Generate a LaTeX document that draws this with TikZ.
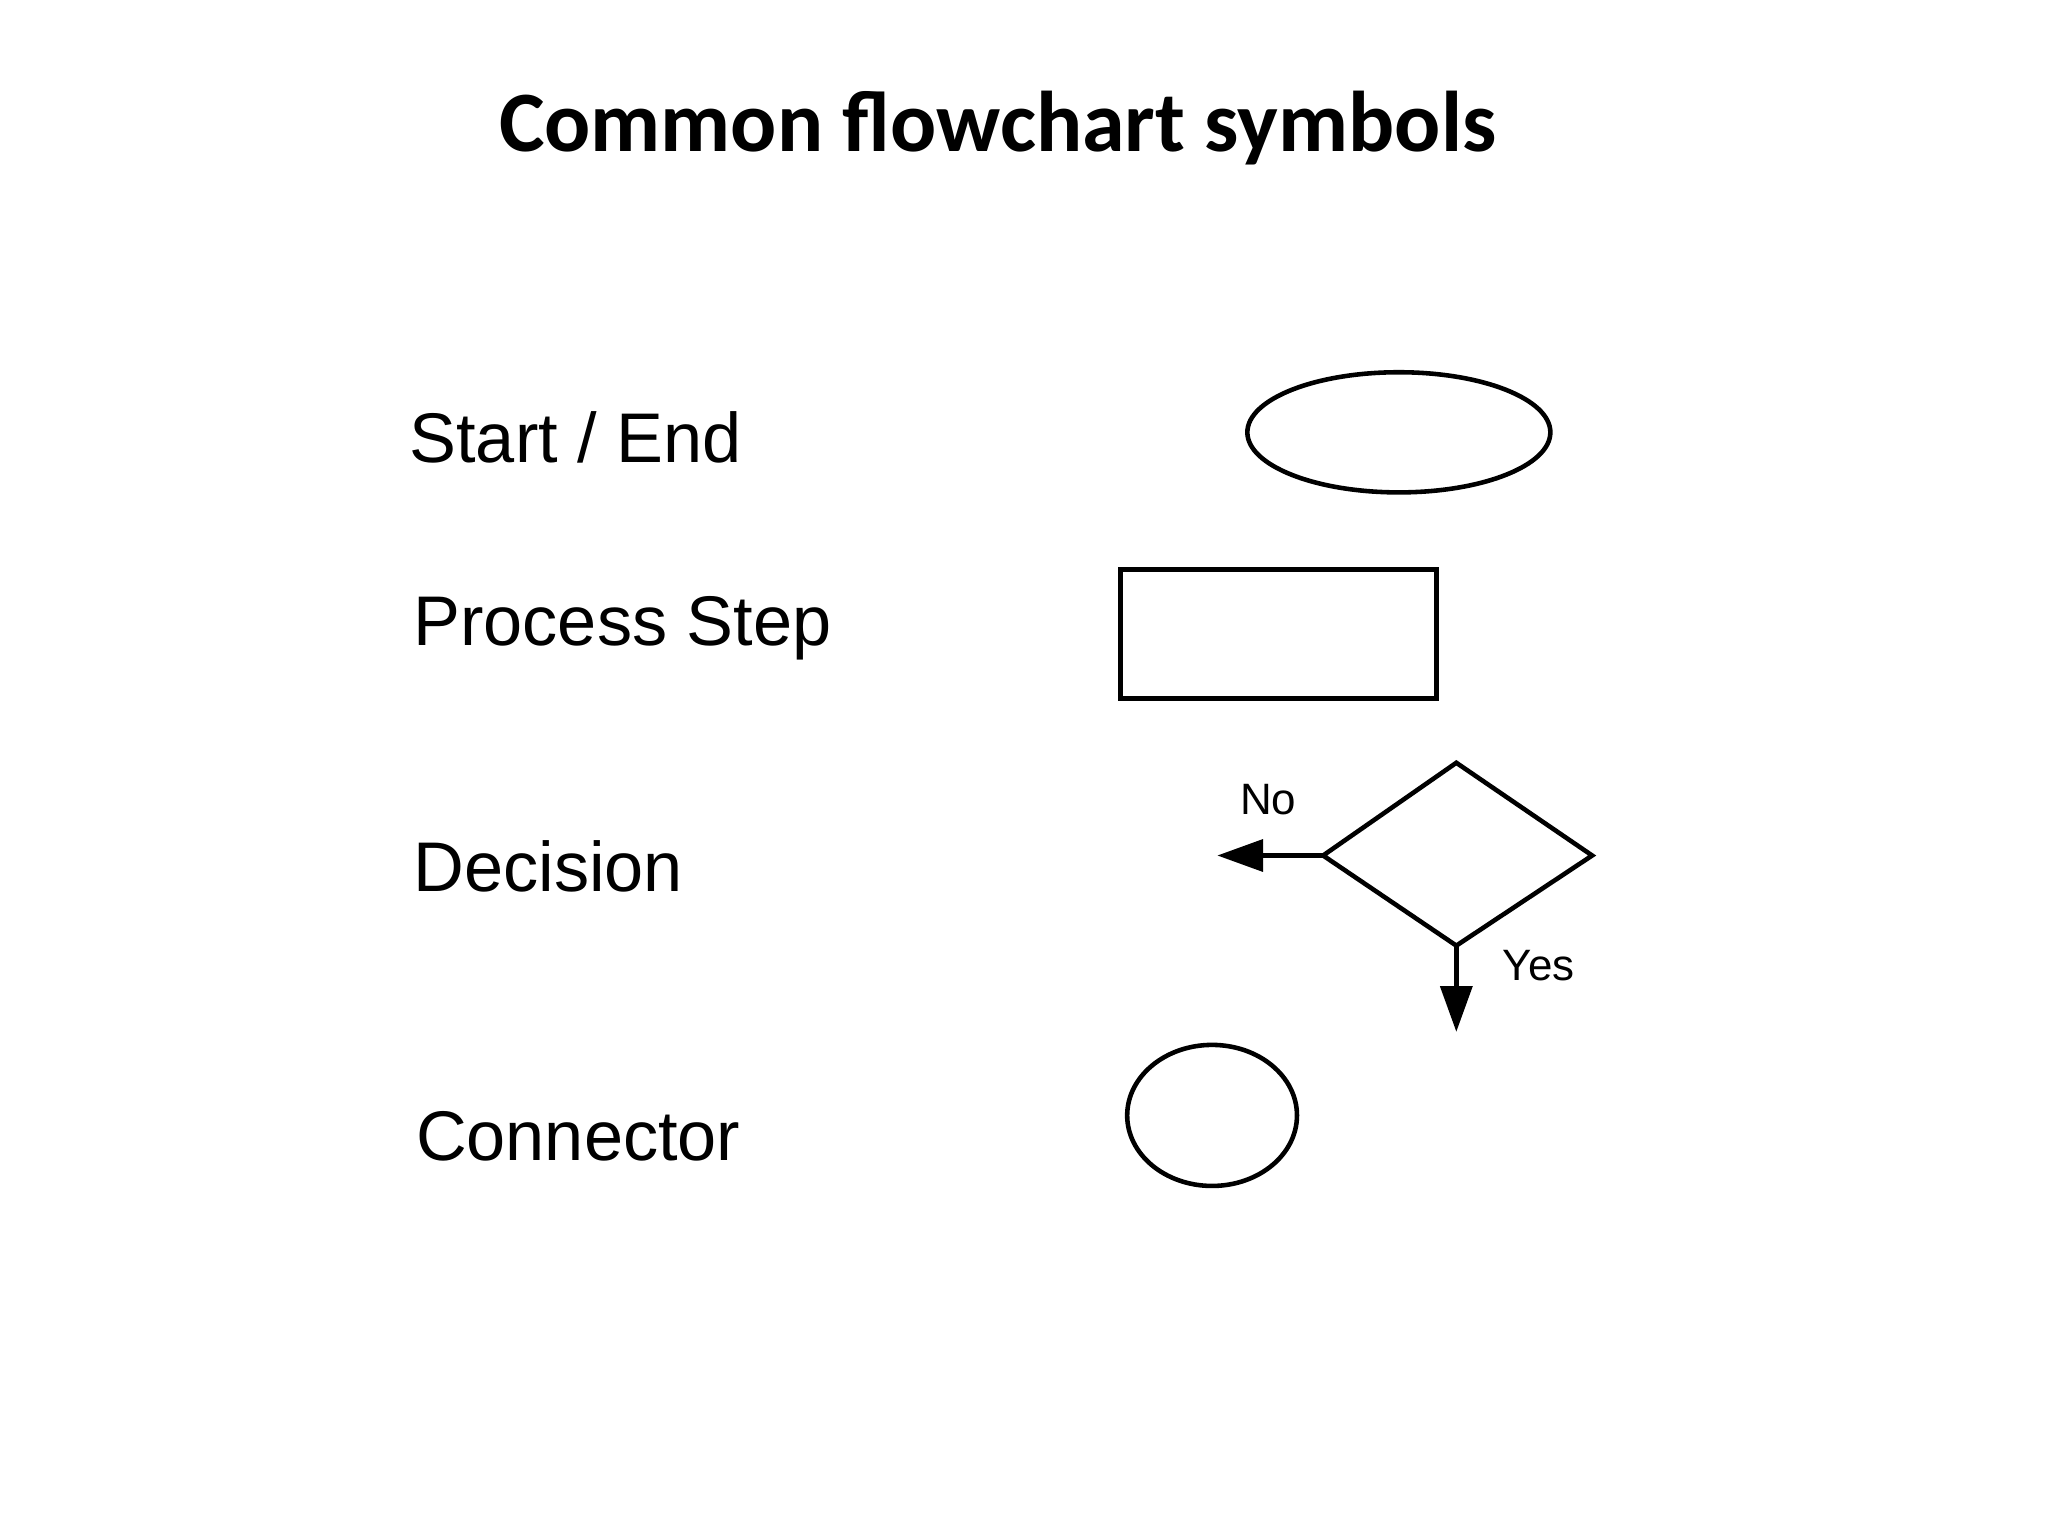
\documentclass[tikz,border=0pt]{standalone}
\usepackage{fontspec}
\setmainfont{Liberation Sans}
\newfontfamily\titlefont{Carlito}
\usetikzlibrary{shapes.geometric,arrows.meta}
\begin{document}
\begin{tikzpicture}[x=0.013061cm,y=-0.013061cm,
  lbl/.style={anchor=west,inner sep=0pt,font=\fontsize{20}{24}\selectfont},
  small/.style={inner sep=0pt,font=\fontsize{12.5}{15}\selectfont},
  shp/.style={draw,line width=1.3pt},
  arr/.style={line width=1.3pt,-{Triangle[length=13pt,width=9pt]}}]
\useasboundingbox (0,0) rectangle (1568,1176);
\node[font=\titlefont\bfseries\fontsize{24.5}{28}\selectfont] (title) at (764,98) {Common flowchart symbols};
\node[lbl] (l1) at (313,335) {Start / End};
\node[lbl] (l2) at (316,481) {Process Step};
\node[lbl] (l3) at (316,663) {Decision};
\node[lbl] (l4) at (318,870) {Connector};
\draw[shp] (1071,331) ellipse [x radius=116, y radius=46];
\draw[shp] (858,436) rectangle (1100,535);
\coordinate (dl) at (1013,655);
\coordinate (dt) at (1115,584);
\coordinate (dr) at (1219,655);
\coordinate (db) at (1115,724);
\draw[shp,line join=miter] (dl) -- (dt) -- (dr) -- (db) -- cycle;
\coordinate (noend) at (932,655);
\coordinate (yesend) at (1115,790);
\draw[arr] (dl) -- (noend);
\draw[arr] (db) -- (yesend);
\node[small] (no) at (971,612) {No};
\node[small] (yes) at (1178,739) {Yes};
\draw[shp] (928,854) ellipse [x radius=65, y radius=54];
\end{tikzpicture}
\end{document}
